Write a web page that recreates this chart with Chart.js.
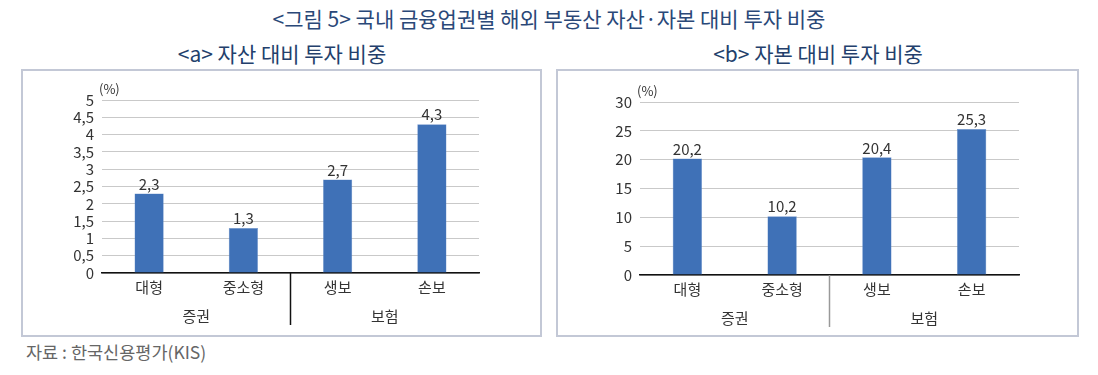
<!DOCTYPE html>
<html><head><meta charset="utf-8">
<script src="https://cdn.jsdelivr.net/npm/chart.js@4"></script>
<style>
body{margin:0;width:1098px;height:375px;background:#fff;position:relative;font-family:"Noto Sans CJK KR","Noto Sans",sans-serif;overflow:hidden}
.t{position:absolute;white-space:nowrap;color:#2a4878;text-align:center}
.box{position:absolute;border:2px solid #c3c8d6;box-sizing:border-box}
canvas{position:absolute;left:0;top:0}
</style></head><body>
<div class="t" style="left:0;width:1098px;top:5px;font-size:21px;line-height:26px">&lt;그림 5&gt; 국내 금융업권별 해외 부동산 자산·자본 대비 투자 비중</div>
<div class="t" style="left:82px;width:400px;top:40px;font-size:21px;line-height:26px;color:#233f6c">&lt;a&gt; 자산 대비 투자 비중</div>
<div class="t" style="left:618px;width:400px;top:40px;font-size:21px;line-height:26px;color:#233f6c">&lt;b&gt; 자본 대비 투자 비중</div>
<div class="box" style="left:21px;top:69px;width:521px;height:268px"><canvas id="c1" width="517" height="264"></canvas></div>
<div class="box" style="left:556px;top:69px;width:523px;height:268px"><canvas id="c2" width="519" height="264"></canvas></div>
<div style="position:absolute;left:26px;top:340px;font-size:17.5px;line-height:24px;color:#666">자료 : 한국신용평가(KIS)</div>
<script>
const categories = ["대형", "중소형", "생보", "손보"];
const groups = ["증권", "보험"];
const assetShare = [2.3, 1.3, 2.7, 4.3];
const equityShare = [20.2, 10.2, 20.4, 25.3];
const assetTicks = [0, 0.5, 1, 1.5, 2, 2.5, 3, 3.5, 4, 4.5, 5];
const equityTicks = [0, 5, 10, 15, 20, 25, 30];

const FONT = '"Noto Sans CJK KR","Noto Sans",sans-serif';
const fmt = v => String(v).replace('.', ',');

const extras = {
  id: 'extras',
  afterDatasetsDraw(chart, args, opts) {
    const ctx = chart.ctx, x = chart.scales.x, y = chart.scales.y, ca = chart.chartArea;
    ctx.save();
    ctx.font = '15px ' + FONT;
    ctx.fillStyle = '#333';
    ctx.textAlign = 'center';
    ctx.textBaseline = 'bottom';
    const meta = chart.getDatasetMeta(0);
    chart.data.datasets[0].data.forEach((v, i) => {
      const el = meta.data[i];
      ctx.fillText(fmt(v), el.x, el.y - 2);
    });
    // unit
    ctx.textAlign = 'left';
    ctx.textBaseline = 'middle';
    ctx.font = '13px ' + FONT;
    ctx.fillText('(%)', ca.left - 3, ca.top - 11);
    // groups
    ctx.font = '15px ' + FONT;
    ctx.textAlign = 'center';
    const g0 = (x.getPixelForValue(0) + x.getPixelForValue(1)) / 2;
    const g1 = (x.getPixelForValue(2) + x.getPixelForValue(3)) / 2;
    ctx.fillText(groups[0], g0, ca.bottom + 43);
    ctx.fillText(groups[1], g1, ca.bottom + 43);
    // separator
    const sx = (x.getPixelForValue(1) + x.getPixelForValue(2)) / 2;
    ctx.strokeStyle = opts.sepColor;
    ctx.lineWidth = 1.5;
    ctx.beginPath();
    ctx.moveTo(sx, ca.bottom);
    ctx.lineTo(sx, ca.bottom + opts.sepLen);
    ctx.stroke();
    ctx.restore();
  }
};

function make(id, data, ticks, pad, sep) {
  const max = ticks[ticks.length - 1];
  return new Chart(document.getElementById(id), {
    type: 'bar',
    data: { labels: categories, datasets: [{ data, backgroundColor: '#3f71b7', borderColor: '#6f95cc', borderWidth: 0.5, categoryPercentage: 1, barPercentage: 0.31 }] },
    options: {
      responsive: false, animation: false,
      layout: { padding: { left: 0, top: pad.top, right: pad.right, bottom: 0 } },
      plugins: { legend: { display: false }, tooltip: { enabled: false }, extras: { sepColor: sep.color, sepLen: sep.len } },
      scales: {
        x: {
          grid: { display: false },
          border: { display: true, color: '#111', width: 1.5 },
          ticks: { color: '#333', font: { size: 15, family: FONT }, padding: -3 },
          afterFit(s) { s.height = pad.bottom; }
        },
        y: {
          min: 0, max,
          afterBuildTicks(s) { s.ticks = ticks.map(v => ({ value: v })); },
          grid: { color: '#c9c9c9', lineWidth: 1, drawTicks: false },
          border: { display: false },
          ticks: { color: '#333', font: { size: 15, family: FONT }, padding: 8, autoSkip: false, callback: v => fmt(v) },
          afterFit(s) { s.width = pad.left; }
        }
      }
    },
    plugins: [extras]
  });
}
make('c1', assetShare, assetTicks, { left: 79, top: 29, right: 61, bottom: 62 }, { color: '#111', len: 52 });
make('c2', equityShare, equityTicks, { left: 82, top: 31, right: 58, bottom: 60 }, { color: '#999', len: 52 });
</script>
</body></html>
